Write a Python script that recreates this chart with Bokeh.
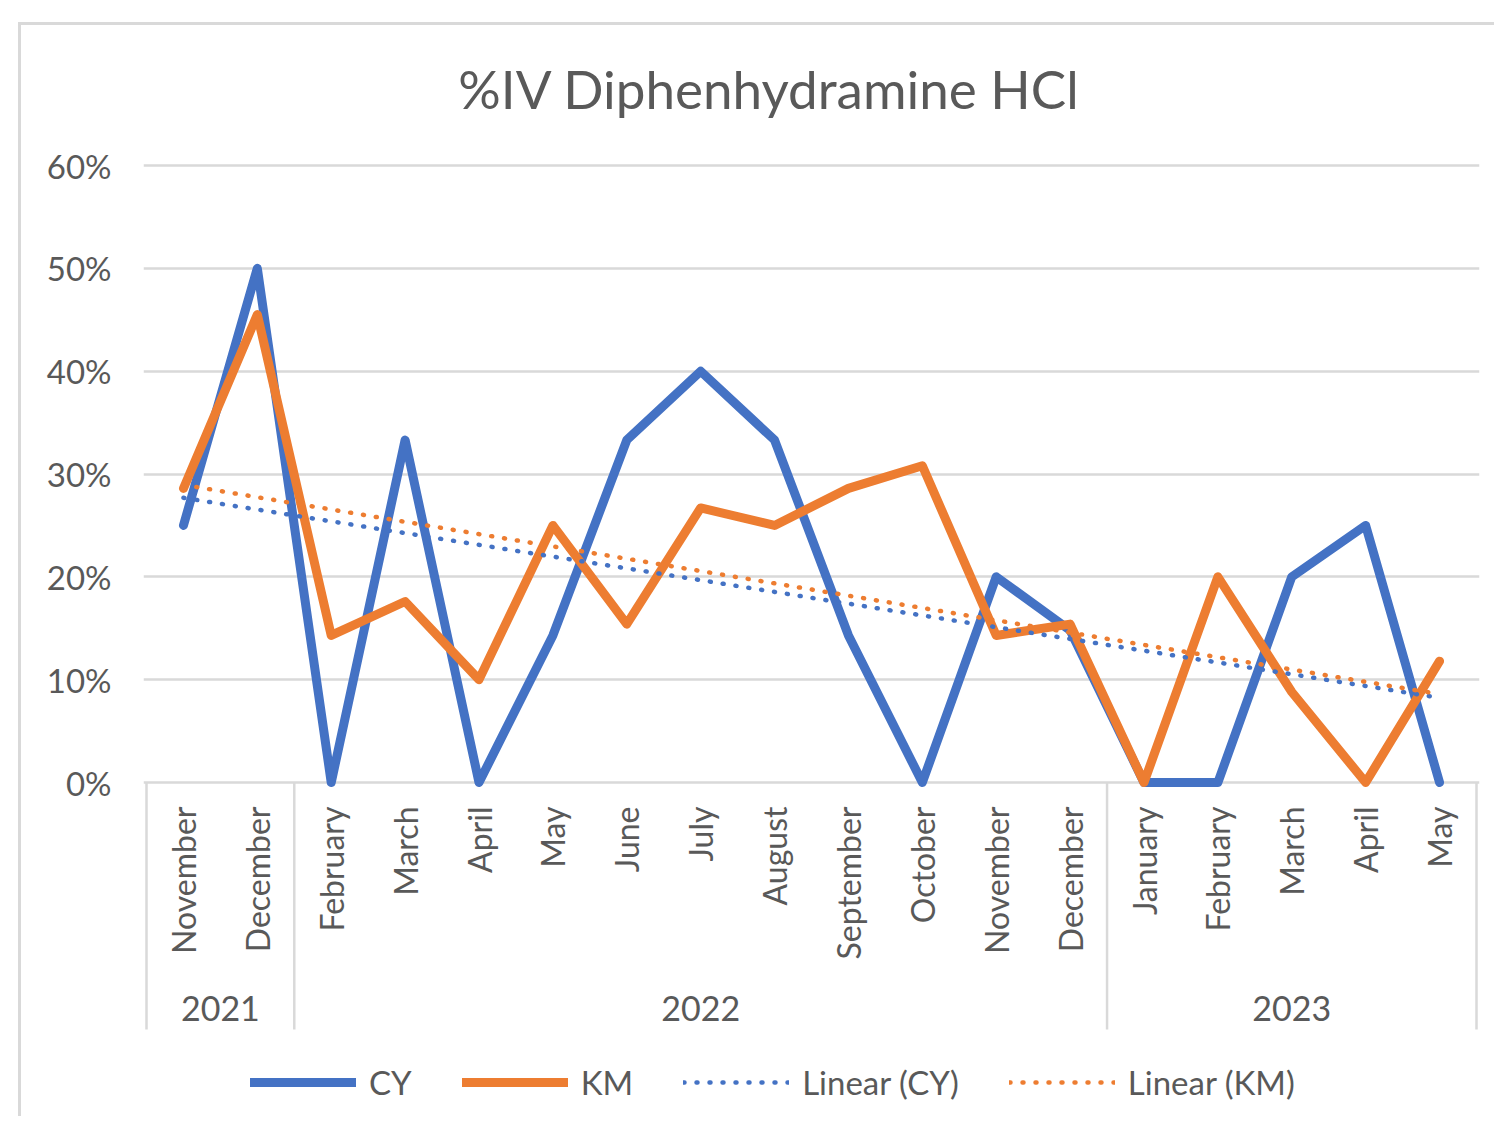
from bokeh.plotting import figure
from bokeh.models import (Range1d, FixedTicker, LinearAxis, NumeralTickFormatter,
                          Legend, LegendItem, Grid)
from bokeh.core.properties import value
from bokeh.embed import file_html
from bokeh.resources import INLINE
import numpy as np

# ---------------- data ----------------
months = ["November", "December", "February", "March", "April", "May", "June",
          "July", "August", "September", "October", "November", "December",
          "January", "February", "March", "April", "May"]
years = ["2021", "2022", "2023"]
year_counts = [2, 11, 5]
cy = [0.25, 0.50, 0.0, 0.333, 0.0, 0.143, 0.333, 0.40, 0.333, 0.143, 0.0,
      0.20, 0.148, 0.0, 0.0, 0.20, 0.25, 0.0]
km = [0.286, 0.455, 0.143, 0.176, 0.10, 0.25, 0.154, 0.267, 0.25, 0.286, 0.308,
      0.143, 0.154, 0.0, 0.20, 0.088, 0.0, 0.118]
y_ticks = [0, 0.1, 0.2, 0.3, 0.4, 0.5, 0.6]
title_text = "%IV Diphenhydramine HCl"

# ---------------- derived ----------------
n = len(months)
xs = [i + 0.5 for i in range(n)]
idx = np.arange(n)
cy_fit = np.polyval(np.polyfit(idx, cy, 1), idx)
km_fit = np.polyval(np.polyfit(idx, km, 1), idx)
bounds = [0] + [int(v) for v in np.cumsum(year_counts)]
year_centers = [(bounds[i] + bounds[i + 1]) / 2 for i in range(len(years))]

# ---------------- layout (canvas pixels) ----------------
W, H = 1476, 1094
PLOT_L, PLOT_R = 125, 1455          # plot area (category band) left/right
PLOT_T, PLOT_B = 140, 757           # 60% line / 0% line
EXT = 3                             # frame overhang so edge separators show fully
DX = (PLOT_R - PLOT_L) / n
K = (y_ticks[-1] - y_ticks[0]) / (PLOT_B - PLOT_T)


def y_at(py):
    return y_ticks[-1] - (py - PLOT_T) * K


def x_at(px):
    return (px - PLOT_L) / DX


FONT = "Lato"
TXT = "#595959"
GRID = "#d9d9d9"
BLUE = "#4472C4"
ORANGE = "#ED7D31"

p = figure(width=W, height=H,
           x_range=Range1d(-EXT / DX, n + EXT / DX),
           y_range=Range1d(y_at(H), y_at(0)),
           output_backend="svg", toolbar_location=None,
           x_axis_type=None, y_axis_type=None, title=None,
           min_border=0, min_border_left=PLOT_L - EXT,
           min_border_right=W - PLOT_R - EXT, min_border_top=0, min_border_bottom=0)
p.margin = (25, 0, 0, 21)
p.styles = {"box-shadow": "-3px -3px 0 0 #d9d9d9"}
p.outline_line_color = None
p.background_fill_color = "white"
p.border_fill_color = "white"

# y axis
yticker = FixedTicker(ticks=y_ticks)
yaxis = LinearAxis(ticker=yticker, formatter=NumeralTickFormatter(format="0%"))
yaxis.axis_line_color = None
yaxis.major_tick_line_color = None
yaxis.minor_tick_line_color = None
yaxis.major_tick_out = 0
yaxis.major_tick_in = 0
yaxis.major_label_standoff = 35 - EXT
yaxis.major_label_text_font = FONT
yaxis.major_label_text_font_size = "33px"
yaxis.major_label_text_color = TXT
p.add_layout(yaxis, "left")

p.add_layout(Grid(dimension=1, ticker=yticker, grid_line_color=GRID,
                  grid_line_width=2.5))

# title
p.text(x=[x_at(748)], y=[y_at(63)], text=[title_text], text_align="center",
       text_baseline="middle", text_font=value(FONT), text_font_size=value("53px"),
       text_color=TXT)

# category axis: month labels, year labels, group separators
p.segment(x0=bounds, y0=[y_ticks[0]] * len(bounds), x1=bounds,
          y1=[y_at(1004)] * len(bounds), line_color=GRID, line_width=2.5)
p.text(x=xs, y=[y_at(781)] * n, text=months, angle=np.pi / 2, text_align="right",
       text_baseline="middle", text_font=value(FONT), text_font_size=value("32px"),
       text_color=TXT)
p.text(x=year_centers, y=[y_at(983)] * len(years), text=years, text_align="center",
       text_baseline="middle", text_font=value(FONT), text_font_size=value("34px"),
       text_color=TXT)

# series
r_cy = p.line(xs, cy, line_width=9, line_color=BLUE, line_join="round", line_cap="round")
r_km = p.line(xs, km, line_width=9, line_color=ORANGE, line_join="round", line_cap="round")
r_tcy = p.line(xs, list(cy_fit), line_width=4.5, line_color=BLUE, line_dash="1 12",
               line_cap="round")
r_tkm = p.line(xs, list(km_fit), line_width=4.5, line_color=ORANGE, line_dash="1 12",
               line_cap="round")

legend = Legend(items=[LegendItem(label="CY", renderers=[r_cy]),
                       LegendItem(label="KM", renderers=[r_km]),
                       LegendItem(label="Linear (CY)", renderers=[r_tcy]),
                       LegendItem(label="Linear (KM)", renderers=[r_tkm])],
                orientation="horizontal", location=(229 - (PLOT_L - EXT), 17),
                glyph_width=106, glyph_height=30, label_standoff=13, spacing=50,
                padding=0, margin=0, border_line_color=None,
                background_fill_color=None,
                label_text_font=FONT, label_text_font_size="33px",
                label_text_color=TXT)
p.add_layout(legend)

open("out.html", "w").write(file_html(p, INLINE))
